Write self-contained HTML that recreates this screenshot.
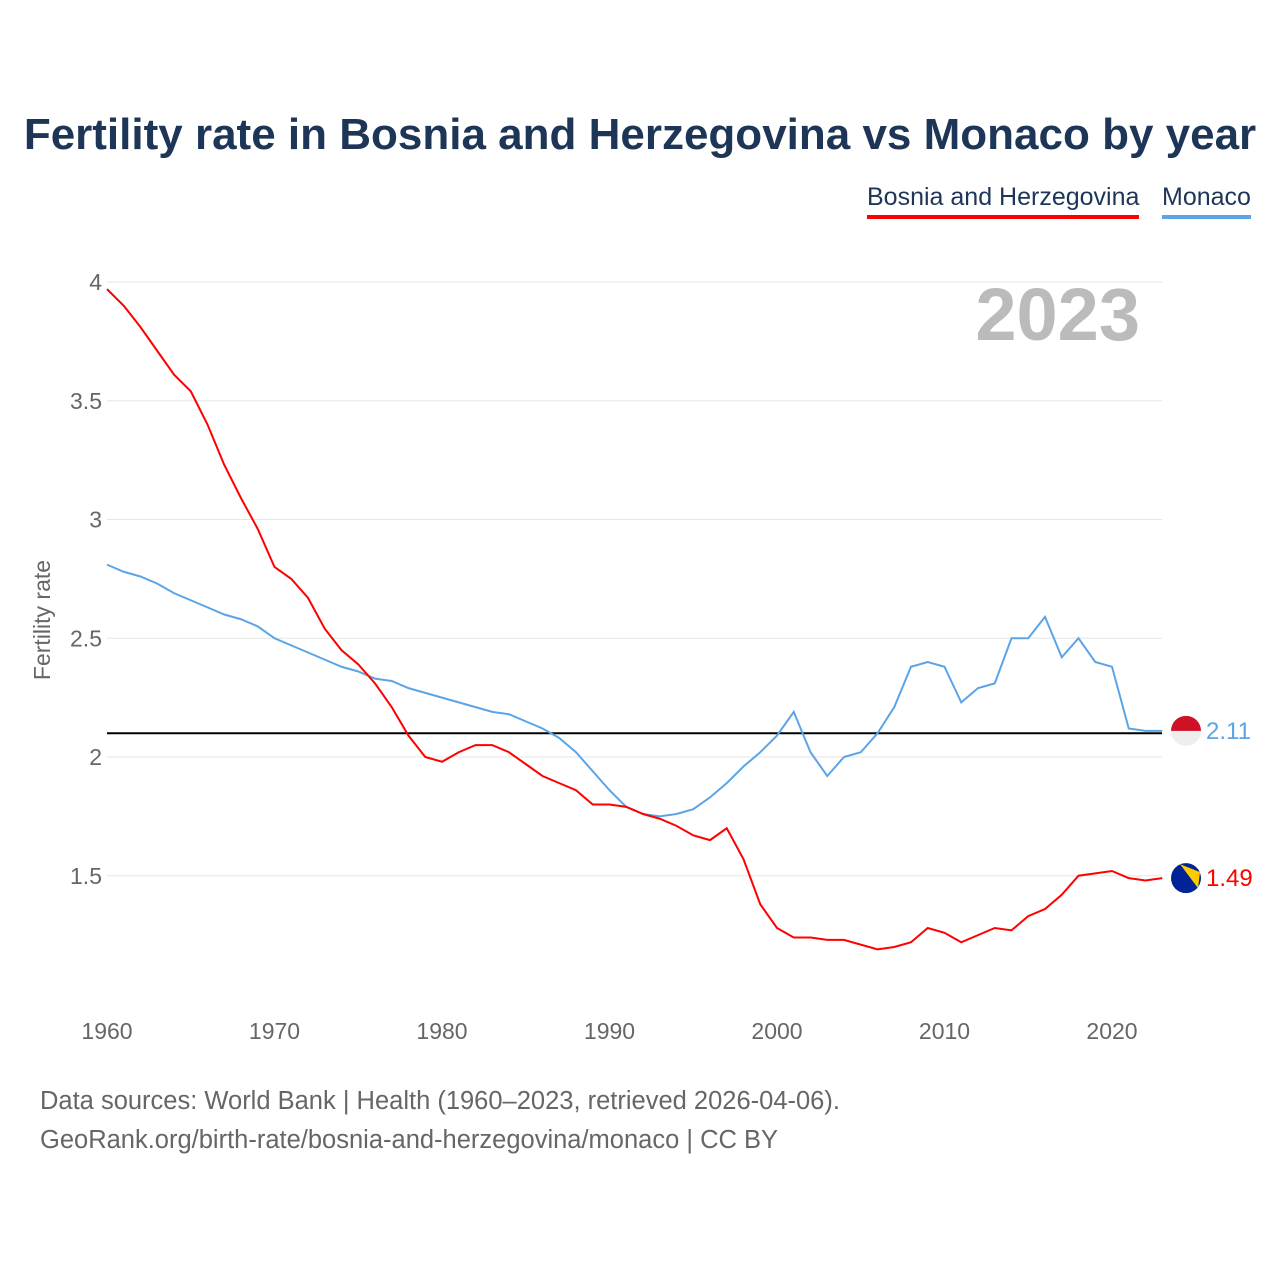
<!DOCTYPE html>
<html><head><meta charset="utf-8"><style>
body{margin:0;background:#fff;font-family:"Liberation Sans",sans-serif}
#wrap{position:relative;width:1280px;height:1280px}
h1{position:absolute;left:0;width:1280px;top:110px;margin:0;text-align:center;font-size:44px;font-weight:bold;color:#1d3557}
.leg{position:absolute;top:183px;font-size:25px;color:#1d3557;padding-bottom:3px}
.src{position:absolute;left:40px;font-size:25.5px;color:#666}
</style></head><body><div id="wrap">
<h1>Fertility rate in Bosnia and Herzegovina vs Monaco by year</h1>
<div class="leg" style="left:867px;border-bottom:4px solid #f00">Bosnia and Herzegovina</div>
<div class="leg" style="left:1162px;border-bottom:4px solid #5ba4e8">Monaco</div>
<svg id="svg" width="1280" height="1280" style="position:absolute;left:0;top:0"></svg>
<div class="src" style="top:1087px">Data sources: World Bank | Health (1960–2023, retrieved 2026-04-06).</div>
<div class="src" style="top:1126px">GeoRank.org/birth-rate/bosnia-and-herzegovina/monaco | CC BY</div>
</div>
<script>
const years=[];for(let y=1960;y<=2023;y++)years.push(y);
const bosnia=[3.97,3.90,3.81,3.71,3.61,3.54,3.40,3.23,3.09,2.96,2.80,2.75,2.67,2.54,2.45,2.39,2.31,2.21,2.09,2.00,1.98,2.02,2.05,2.05,2.02,1.97,1.92,1.89,1.86,1.80,1.80,1.79,1.76,1.74,1.71,1.67,1.65,1.70,1.57,1.38,1.28,1.24,1.24,1.23,1.23,1.21,1.19,1.20,1.22,1.28,1.26,1.22,1.25,1.28,1.27,1.33,1.36,1.42,1.50,1.51,1.52,1.49,1.48,1.49];
const monaco=[2.81,2.78,2.76,2.73,2.69,2.66,2.63,2.60,2.58,2.55,2.50,2.47,2.44,2.41,2.38,2.36,2.33,2.32,2.29,2.27,2.25,2.23,2.21,2.19,2.18,2.15,2.12,2.08,2.02,1.94,1.86,1.79,1.76,1.75,1.76,1.78,1.83,1.89,1.96,2.02,2.09,2.19,2.02,1.92,2.00,2.02,2.10,2.21,2.38,2.40,2.38,2.23,2.29,2.31,2.50,2.50,2.59,2.42,2.50,2.40,2.38,2.12,2.11,2.11];
const yTicks=[1.5,2,2.5,3,3.5,4];
const xTicks=[1960,1970,1980,1990,2000,2010,2020];
const refLine=2.1;
const X=v=>107+(v-1960)*16.75, Y=v=>757-(v-2)*237.5;
const s=document.getElementById('svg'),NS='http://www.w3.org/2000/svg';
function mk(t,a,txt){const e=document.createElementNS(NS,t);for(const k in a)e.setAttribute(k,a[k]);if(txt!=null)e.textContent=txt;s.appendChild(e);return e;}
yTicks.forEach(v=>{
 const g=mk('line',{x1:107,x2:1162,y1:Y(v),y2:Y(v),stroke:'#e6e6e6','stroke-width':1});
 
 
 const t=mk('text',{x:102,y:Y(v)+8,'text-anchor':'end','font-size':23,fill:'#666','font-family':'Liberation Sans'},String(v));
 
 
});
xTicks.forEach(v=>{
 const t=mk('text',{x:X(v),y:1039,'text-anchor':'middle','font-size':23,fill:'#666','font-family':'Liberation Sans'},String(v));
 
 
});
const yt=mk('text',{x:0,y:0,transform:'translate(50,620) rotate(-90)','text-anchor':'middle','font-size':23,fill:'#666','font-family':'Liberation Sans'},'Fertility rate');


const yr=mk('text',{x:1140,y:340,'text-anchor':'end','font-size':74,'font-weight':'bold',fill:'#bbb','font-family':'Liberation Sans'},'2023');


const rl=mk('line',{x1:107,x2:1162,y1:Y(refLine),y2:Y(refLine),stroke:'#000','stroke-width':2});


function line(d,c,n){
 const p=mk('path',{d:d.map((v,i)=>(i?'L':'M')+X(years[i])+','+Y(v)).join(''),fill:'none',stroke:c,'stroke-width':2});
 
 
}
line(monaco,'#5ba4e8','monaco-line');line(bosnia,'#f00','bosnia-line');
const lm=monaco[monaco.length-1],lb=bosnia[bosnia.length-1];
const f1=mk('circle',{cx:1186,cy:Y(lm),r:15,fill:'#eee'});


mk('path',{d:`M1171,${Y(lm)} A15,15 0 0 1 1201,${Y(lm)} Z`,fill:'#ce1126'});
const f2=mk('circle',{cx:1186,cy:Y(lb),r:15,fill:'#002395'});


mk('path',{d:`M1180,${Y(lb)-14} L1200,${Y(lb)-6} L1198,${Y(lb)+10} Z`,fill:'#fecb00'});
const v1=mk('text',{x:1206,y:Y(lm)+8,'font-size':24,fill:'#5ba4e8','font-family':'Liberation Sans'},lm.toFixed(2));


const v2=mk('text',{x:1206,y:Y(lb)+8,'font-size':24,fill:'#f00','font-family':'Liberation Sans'},lb.toFixed(2));


</script></body></html>
